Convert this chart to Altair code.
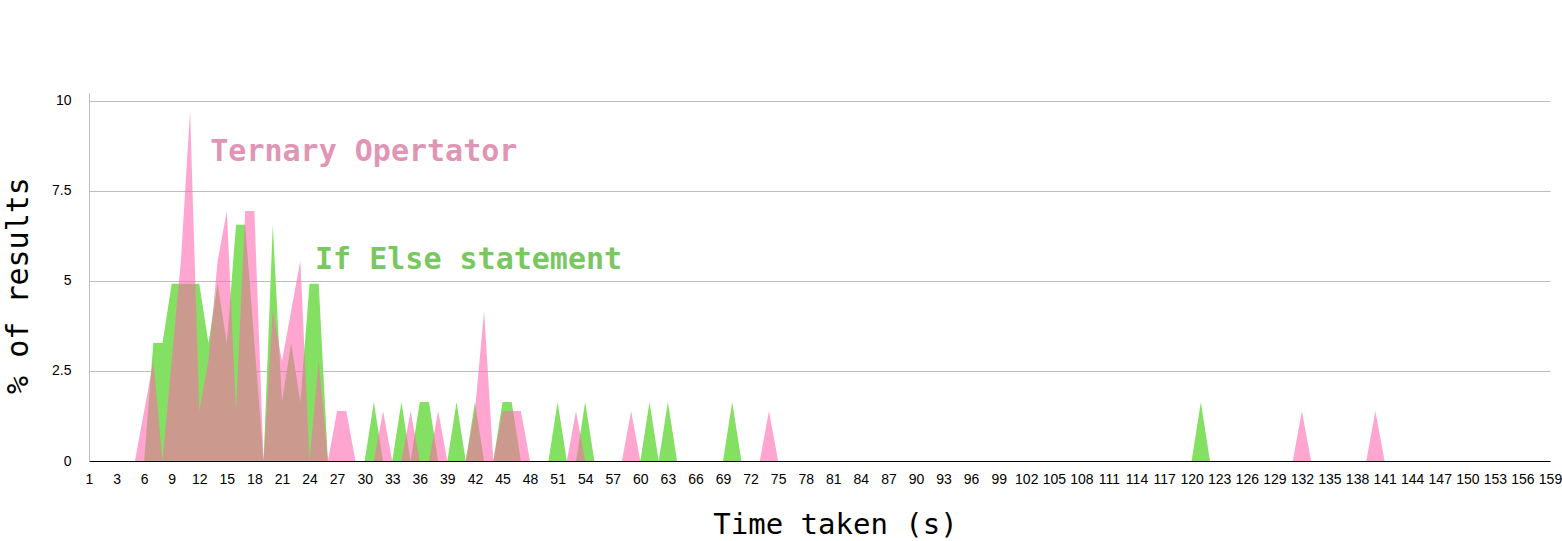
import altair as alt
import pandas as pd

# ---- data (percent of results per second) ----
ternary_time = [6, 7, 9, 10, 11, 12, 13, 14, 15, 16, 17, 18, 20, 21, 22, 23, 25,
                27, 28, 32, 35, 38, 42, 43, 45, 46, 47, 53, 59, 74, 132, 140]
ternary_pct = [1.39, 2.78, 2.78, 5.56, 9.72, 1.39, 2.78, 5.56, 6.94, 1.39, 6.94, 6.94,
               4.17, 2.78, 4.17, 5.56, 2.78, 1.39, 1.39, 1.39, 1.39, 1.39, 1.39, 4.17,
               1.39, 1.39, 1.39, 1.39, 1.39, 1.39, 1.39, 1.39]

ifelse_time = [7, 8, 9, 10, 11, 12, 13, 14, 15, 16, 17, 18, 20, 21, 22, 23, 24, 25,
               31, 34, 36, 37, 40, 42, 45, 46, 51, 54, 61, 63, 70, 121]
ifelse_pct = [3.28, 3.28, 4.92, 4.92, 4.92, 4.92, 3.28, 4.92, 3.28, 6.56, 6.56, 3.28,
              6.56, 1.64, 3.28, 1.64, 4.92, 4.92, 1.64, 1.64, 1.64, 1.64, 1.64, 1.64,
              1.64, 1.64, 1.64, 1.64, 1.64, 1.64, 1.64, 1.64]

x_max = 159
x_tick_values = list(range(0, x_max + 1, 3))
y_tick_values = [0, 2.5, 5, 7.5, 10]

label_text = ["Ternary Opertator", "If Else statement"]
label_t = [13.2, 24.6]
label_pct = [8.34, 5.33]


def full_series(times, pcts):
    s = pd.Series(pcts, index=times)
    s = s.reindex(range(0, x_max + 1), fill_value=0.0)
    return pd.DataFrame({"t": s.index, "pct": s.values})


green_df = full_series(ifelse_time, ifelse_pct)
pink_df = full_series(ternary_time, ternary_pct)

x_scale = alt.Scale(domain=[0, x_max], nice=False, zero=False)
y_scale = alt.Scale(domain=[0, 10.22], nice=False)

x_axis = alt.Axis(
    values=x_tick_values,
    labelExpr="datum.value == 0 ? '1' : datum.label",
    labelFlush=False,
    labelOverlap=False,
    ticks=False,
    grid=False,
    domainColor="#000000",
    domainWidth=1.2,
    labelFont="Liberation Sans",
    labelFontSize=14,
    labelColor="#000000",
    labelPadding=11,
    title="Time taken (s)",
    titleFont="DejaVu Sans Mono",
    titleFontSize=29,
    titleFontWeight="normal",
    titleColor="#000000",
    titleX=746,
    titleY=72,
    titleAlign="center",
    titleBaseline="alphabetic",
)

y_axis = alt.Axis(
    values=y_tick_values,
    labelExpr="'' + datum.value",
    ticks=False,
    grid=True,
    gridColor="#bdbdbd",
    gridWidth=1,
    domainColor="#bdbdbd",
    labelFont="Liberation Sans",
    labelFontSize=14,
    labelColor="#000000",
    labelPadding=18,
    title="% of results",
    titleFont="DejaVu Sans Mono",
    titleFontSize=30,
    titleFontWeight="normal",
    titleColor="#000000",
    titleAngle=270,
    titleX=-62,
    titleY=192,
    titleAlign="center",
    titleBaseline="alphabetic",
)

green = alt.Chart(green_df).mark_area(color="#83E062", interpolate="linear").encode(
    x=alt.X("t:Q", scale=x_scale, axis=x_axis),
    y=alt.Y("pct:Q", scale=y_scale, axis=y_axis),
)

pink = alt.Chart(pink_df).mark_area(color="#FF68AF", opacity=0.59, interpolate="linear").encode(
    x=alt.X("t:Q", scale=x_scale, axis=x_axis),
    y=alt.Y("pct:Q", scale=y_scale, axis=y_axis),
)

labels_df = pd.DataFrame({"text": label_text, "t": label_t, "pct": label_pct})

ternary_label = alt.Chart(labels_df.iloc[[0]]).mark_text(
    align="left", baseline="alphabetic", font="DejaVu Sans Mono",
    fontWeight="bold", fontSize=30, color="#E095B5",
).encode(
    x=alt.X("t:Q", scale=x_scale, axis=x_axis),
    y=alt.Y("pct:Q", scale=y_scale, axis=y_axis),
    text="text:N",
)

ifelse_label = alt.Chart(labels_df.iloc[[1]]).mark_text(
    align="left", baseline="alphabetic", font="DejaVu Sans Mono",
    fontWeight="bold", fontSize=30, color="#78C85F",
).encode(
    x=alt.X("t:Q", scale=x_scale, axis=x_axis),
    y=alt.Y("pct:Q", scale=y_scale, axis=y_axis),
    text="text:N",
)

chart = alt.layer(green, pink, ternary_label, ifelse_label).properties(
    width=1461,
    height=368,
    autosize=alt.AutoSizeParams(type="none"),
    padding={"left": 89, "top": 93, "right": 12, "bottom": 80},
    background="#ffffff",
).configure_view(stroke=None)

chart.save("out.html", embed_options={"renderer": "svg", "actions": False})
